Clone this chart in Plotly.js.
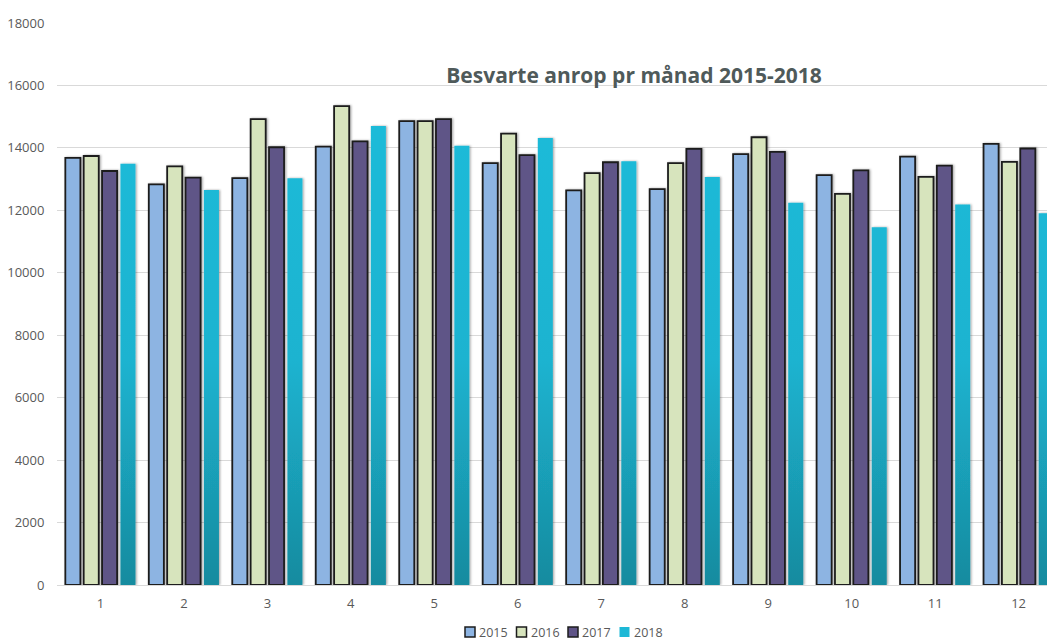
<!DOCTYPE html>
<html>
<head>
<meta charset="utf-8">
<script src="https://cdn.plot.ly/plotly-3.0.1.min.js"></script>
<style>
  html, body { margin: 0; padding: 0; background: #fff; }
  #chart { width: 1047px; height: 640px; }
</style>
</head>
<body>
<div id="chart"></div>
<script>
// Answered calls per month, 2015-2018
const months = ['1', '2', '3', '4', '5', '6', '7', '8', '9', '10', '11', '12'];
const years = ['2015', '2016', '2017', '2018'];

const calls2015 = [13680, 12830, 13030, 14040, 14860, 13510, 12640, 12680, 13800, 13130, 13720, 14130];
const calls2016 = [13740, 13410, 14920, 15340, 14860, 14460, 13190, 13510, 14340, 12530, 13070, 13550];
const calls2017 = [13260, 13050, 14020, 14210, 14920, 13770, 13540, 13970, 13870, 13280, 13430, 13980];
const calls2018 = [13490, 12650, 13030, 14700, 14070, 14320, 13570, 13070, 12240, 11460, 12190, 11910];

const yTicks = [0, 2000, 4000, 6000, 8000, 10000, 12000, 14000, 16000, 18000];

const seriesValues = [calls2015, calls2016, calls2017, calls2018];
const fillColors = ['#8DB4E2', '#D7E4BD', '#5F5487', '#1DB8D6'];
const outlined = [true, true, true, false];
const outlineColor = '#1c1c1c';

const traces = years.map((yr, i) => ({
  type: 'bar',
  name: yr,
  x: months,
  y: seriesValues[i],
  marker: {
    color: fillColors[i],
    line: { color: outlineColor, width: outlined[i] ? 1.8 : 0 }
  },
  hoverinfo: 'x+y+name'
}));

// hand-built legend below the plot: small squares followed by the year
const shapes = [];
const annotations = [];
const legendStart = 408;   // px from the plot's left edge
const legendPitch = 51.5;
years.forEach((yr, i) => {
  const x0 = legendStart + i * legendPitch;
  shapes.push({
    type: 'rect', xref: 'paper', yref: 'paper',
    xsizemode: 'pixel', ysizemode: 'pixel',
    xanchor: 0, yanchor: 0,
    x0: x0, x1: x0 + 10, y0: -52, y1: -42,
    fillcolor: fillColors[i],
    line: { color: outlined[i] ? outlineColor : fillColors[i], width: outlined[i] ? 1.5 : 0 }
  });
  annotations.push({
    xref: 'paper', yref: 'paper', x: 0, y: 0,
    xanchor: 'left', yanchor: 'middle',
    xshift: x0 + 12, yshift: -47,
    text: yr, showarrow: false,
    font: { family: 'Open Sans, sans-serif', size: 12.5, color: '#595959' }
  });
});

const layout = {
  width: 1047,
  height: 640,
  margin: { l: 57, r: 0, t: 23, b: 55, pad: 0 },
  paper_bgcolor: '#ffffff',
  plot_bgcolor: '#ffffff',
  showlegend: false,
  barmode: 'group',
  bargap: 0.12,
  bargroupgap: 0.18,
  title: {
    text: '<b>Besvarte anrop pr månad 2015-2018</b>',
    x: 634 / 1047,
    xanchor: 'center',
    xref: 'container',
    y: 1 - 76 / 640,
    yanchor: 'middle',
    yref: 'container',
    font: { family: 'Open Sans, sans-serif', size: 21, color: '#4F5A5A' }
  },
  xaxis: {
    type: 'category',
    range: [-0.52, 11.34],
    showgrid: false,
    showline: true,
    linecolor: '#d9d9d9',
    linewidth: 1,
    ticks: 'outside',
    ticklen: 6,
    tickcolor: 'rgba(0,0,0,0)',
    tickfont: { family: 'Open Sans, sans-serif', size: 13, color: '#595959' },
    fixedrange: true
  },
  yaxis: {
    range: [0, 18000],
    tickvals: yTicks,
    ticktext: yTicks.map(String),
    showgrid: true,
    gridcolor: '#d9d9d9',
    gridwidth: 1,
    zeroline: false,
    showline: false,
    ticks: 'outside',
    ticklen: 9,
    tickcolor: 'rgba(0,0,0,0)',
    tickfont: { family: 'Open Sans, sans-serif', size: 13, color: '#595959' },
    fixedrange: true
  },
  shapes: shapes,
  annotations: annotations
};

Plotly.newPlot('chart', traces, layout, { displayModeBar: false, staticPlot: true }).then(() => {
  const svg = document.querySelector('#chart .main-svg');
  const ns = 'http://www.w3.org/2000/svg';
  let defs = svg.querySelector('defs');
  if (!defs) { defs = document.createElementNS(ns, 'defs'); svg.insertBefore(defs, svg.firstChild); }

  // vertical shading for the 2018 bars: bright cyan at the top, deeper teal near the base
  const plotH = layout.height - layout.margin.t - layout.margin.b;
  const grad = document.createElementNS(ns, 'linearGradient');
  grad.setAttribute('id', 'shade2018');
  grad.setAttribute('gradientUnits', 'userSpaceOnUse');
  grad.setAttribute('x1', '0'); grad.setAttribute('x2', '0');
  grad.setAttribute('y1', '0'); grad.setAttribute('y2', String(plotH));
  [['0', '#1EBEDC'], ['0.6', '#1CB3D0'], ['1', '#178B9F']].forEach(([o, c]) => {
    const s = document.createElementNS(ns, 'stop');
    s.setAttribute('offset', o); s.setAttribute('stop-color', c);
    grad.appendChild(s);
  });
  defs.appendChild(grad);

  // soft grey halo beside each bar
  const filt = document.createElementNS(ns, 'filter');
  filt.setAttribute('id', 'barShadow');
  filt.setAttribute('x', '-50%'); filt.setAttribute('y', '-5%');
  filt.setAttribute('width', '200%'); filt.setAttribute('height', '110%');
  const ds = document.createElementNS(ns, 'feDropShadow');
  ds.setAttribute('dx', '1.2'); ds.setAttribute('dy', '0');
  ds.setAttribute('stdDeviation', '0.9');
  ds.setAttribute('flood-color', '#000');
  ds.setAttribute('flood-opacity', '0.35');
  filt.appendChild(ds);
  defs.appendChild(filt);

  const barTraces = document.querySelectorAll('#chart .barlayer .trace');
  barTraces.forEach((t, i) => {
    t.querySelectorAll('path').forEach(p => {
      p.setAttribute('filter', 'url(#barShadow)');
      if (i === 3) p.style.fill = 'url(#shade2018)';
    });
  });
});
</script>
</body>
</html>
